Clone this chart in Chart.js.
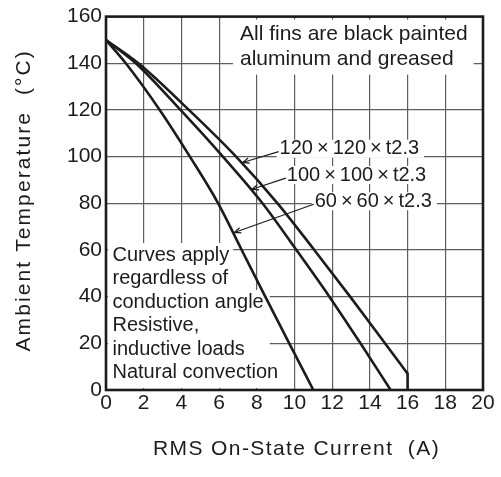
<!DOCTYPE html>
<html>
<head>
<meta charset="utf-8">
<script src="https://cdn.jsdelivr.net/npm/chart.js@4/dist/chart.umd.min.js"></script>
<style>
  html, body { margin: 0; padding: 0; background: #fff; }
  #wrap { width: 501px; height: 477px; }
</style>
</head>
<body>
<div id="wrap"><canvas id="chart" width="501" height="477"></canvas></div>
<script>
// Derating curves: ambient temperature limit vs RMS on-state current, per heat-sink fin size
const FIN_LABELS = ['120\u2009×\u2009120\u2009×\u2009t2.3', '100\u2009×\u2009100\u2009×\u2009t2.3', '60\u2009×\u200960\u2009×\u2009t2.3'];

const CURRENT_120 = [0, 1.72, 4.4, 6.9, 9.1, 11.05, 12.95, 14.8, 16.0, 16.0];
const TEMP_120    = [150, 140, 120, 100, 80, 60, 40, 20, 7, 0];

const CURRENT_100 = [0, 1.58, 3.95, 6.2, 8.3, 10.1, 11.85, 13.5, 15.1];
const TEMP_100    = [150, 140, 120, 100, 80, 60, 40, 20, 0];

const CURRENT_60  = [0, 1.05, 2.85, 4.45, 5.95, 7.2, 8.45, 9.72, 11.0];
const TEMP_60     = [150, 140, 120, 100, 80, 60, 40, 20, 0];

const X_TICKS = [0, 2, 4, 6, 8, 10, 12, 14, 16, 18, 20];
const Y_TICKS = [0, 20, 40, 60, 80, 100, 120, 140, 160];

const NOTE_TOP  = ['All fins are black painted', 'aluminum and greased'];
const NOTE_LEFT = ['Curves apply', 'regardless of', 'conduction angle', 'Resistive,', 'inductive loads', 'Natural convection'];

const X_TITLE = 'RMS On-State Current  (A)';
const Y_TITLE = 'Ambient Temperature  (°C)';

const INK = '#1c1c1c';
const GRID = '#5e5e5e';
const FAMILY = "'Liberation Sans', Arial, Helvetica, sans-serif";

const toPoints = (xs, ys) => xs.map((x, i) => ({ x, y: ys[i] }));

// the 120 curve ends in a vertical cut-off at its maximum current
const POINTS_120 = toPoints(CURRENT_120, TEMP_120);
const CURVE_120 = POINTS_120.slice(0, -1);
const CUTOFF_120 = POINTS_120.slice(-2);

// current on a curve where it crosses a given temperature
function currentAt(points, t) {
  for (let i = 0; i < points.length - 1; i++) {
    const a = points[i], b = points[i + 1];
    if (t <= a.y && t >= b.y && a.y !== b.y) {
      return a.x + (a.y - t) / (a.y - b.y) * (b.x - a.x);
    }
  }
  return points[points.length - 1].x;
}

function drawArrow(ctx, x0, y0, x1, y1) {
  ctx.beginPath();
  ctx.moveTo(x0, y0);
  ctx.lineTo(x1, y1);
  ctx.stroke();
  const ang = Math.atan2(y1 - y0, x1 - x0), len = 7, spread = 0.4;
  ctx.beginPath();
  ctx.moveTo(x1 - len * Math.cos(ang - spread), y1 - len * Math.sin(ang - spread));
  ctx.lineTo(x1, y1);
  ctx.lineTo(x1 - len * Math.cos(ang + spread), y1 - len * Math.sin(ang + spread));
  ctx.stroke();
}

// fin-size callouts: text anchor (current, temperature) and the temperature where the arrow meets its curve
const CALLOUTS = [
  { dataset: 0, at: { x: 9.21, y: 103.4 }, tipTemp: 97.5 },
  { dataset: 1, at: { x: 9.59, y: 92.1 },  tipTemp: 86 },
  { dataset: 2, at: { x: 11.07, y: 80.9 }, tipTemp: 67.5 }
];

const notesPlugin = {
  id: 'notes',
  beforeDatasetsDraw(chart) {
    const { ctx, chartArea: a, scales: { x, y } } = chart;
    ctx.save();
    ctx.fillStyle = '#fff';

    // panel behind the top-right note
    ctx.font = '21px ' + FAMILY;
    const topW = Math.max(...NOTE_TOP.map(s => ctx.measureText(s).width));
    const topX = a.right - 243;
    ctx.fillRect(topX - 7, a.top + 3, topW + 13, 55);

    // panels behind the lower-left note
    ctx.font = '20px ' + FAMILY;
    const lx = a.left + 6.5;
    const c0 = a.bottom - 135;
    const wA = Math.max(ctx.measureText(NOTE_LEFT[0]).width, ctx.measureText(NOTE_LEFT[1]).width);
    const wB = ctx.measureText(NOTE_LEFT[2]).width;
    ctx.fillRect(a.left + 2, c0 - 12, lx - a.left - 2 + wA + 4, 47);
    ctx.fillRect(a.left + 2, c0 + 35, lx - a.left - 2 + wB + 6, a.bottom - c0 - 37);

    // panels behind the fin-size callouts
    CALLOUTS.forEach(c => {
      const w = ctx.measureText(FIN_LABELS[c.dataset]).width;
      const px = x.getPixelForValue(c.at.x), py = y.getPixelForValue(c.at.y);
      ctx.fillRect(px - 3, py - 9, w + 8, 18);
    });
    ctx.restore();
  },
  afterDatasetsDraw(chart) {
    const { ctx, chartArea: a, scales: { x, y } } = chart;
    ctx.save();
    ctx.fillStyle = INK;
    ctx.strokeStyle = INK;
    ctx.textBaseline = 'middle';
    ctx.textAlign = 'left';

    // plot frame
    ctx.lineWidth = 2.6;
    ctx.strokeRect(a.left, a.top, a.right - a.left, a.bottom - a.top);

    // top-right note
    ctx.font = '21px ' + FAMILY;
    const topX = a.right - 243;
    NOTE_TOP.forEach((s, i) => ctx.fillText(s, topX, a.top + 18 + i * 25));

    // lower-left note
    ctx.font = '20px ' + FAMILY;
    const lx = a.left + 6.5;
    const c0 = a.bottom - 135;
    NOTE_LEFT.forEach((s, i) => ctx.fillText(s, lx, c0 + i * 23.5));

    // fin-size callouts with arrows onto their curves
    ctx.lineWidth = 1.2;
    CALLOUTS.forEach(c => {
      const pts = chart.data.datasets[c.dataset].data;
      const px = x.getPixelForValue(c.at.x), py = y.getPixelForValue(c.at.y);
      ctx.fillText(FIN_LABELS[c.dataset], px, py);
      const tx = x.getPixelForValue(currentAt(pts, c.tipTemp));
      const ty = y.getPixelForValue(c.tipTemp);
      drawArrow(ctx, px - 1, py + 3, tx + 1.5, ty);
    });
    ctx.restore();
  },
  afterDraw(chart) {
    const { ctx, chartArea: a } = chart;
    ctx.save();
    ctx.fillStyle = INK;
    ctx.font = '21px ' + FAMILY;
    ctx.textAlign = 'center';
    ctx.textBaseline = 'alphabetic';
    if ('letterSpacing' in ctx) ctx.letterSpacing = '1.4px';
    ctx.fillText(X_TITLE, (a.left + a.right) / 2 + 2, 455);
    if ('letterSpacing' in ctx) ctx.letterSpacing = '2.1px';
    ctx.translate(30, (a.top + a.bottom) / 2 - 3);
    ctx.rotate(-Math.PI / 2);
    ctx.fillText(Y_TITLE, 0, 0);
    ctx.restore();
  }
};

const curveStyle = {
  showLine: true,
  borderColor: INK,
  backgroundColor: INK,
  borderWidth: 2.6,
  pointRadius: 0,
  pointHoverRadius: 0,
  cubicInterpolationMode: 'monotone',
  fill: false,
  borderJoinStyle: 'round',
  borderCapStyle: 'butt'
};

new Chart(document.getElementById('chart'), {
  type: 'scatter',
  data: {
    datasets: [
      { label: FIN_LABELS[0], data: CURVE_120, ...curveStyle },
      { label: FIN_LABELS[1], data: toPoints(CURRENT_100, TEMP_100), ...curveStyle },
      { label: FIN_LABELS[2], data: toPoints(CURRENT_60, TEMP_60), ...curveStyle },
      { label: FIN_LABELS[0] + ' cut-off', data: CUTOFF_120, ...curveStyle, cubicInterpolationMode: 'default', tension: 0 }
    ]
  },
  options: {
    responsive: false,
    animation: false,
    devicePixelRatio: 1,
    layout: { padding: { top: 14, right: 18, left: 0, bottom: 0 } },
    plugins: { legend: { display: false }, tooltip: { enabled: false } },
    scales: {
      x: {
        type: 'linear',
        min: 0, max: 20,
        afterBuildTicks: s => { s.ticks = X_TICKS.map(v => ({ value: v })); },
        afterFit: s => { s.height = 87; },
        ticks: { font: { family: FAMILY, size: 21 }, color: INK, padding: 1, maxRotation: 0, autoSkip: false },
        grid: { color: GRID, lineWidth: 1.2, drawTicks: false },
        border: { display: false },
        title: { display: false }
      },
      y: {
        type: 'linear',
        min: 0, max: 160,
        afterBuildTicks: s => { s.ticks = Y_TICKS.map(v => ({ value: v })); },
        afterFit: s => { s.width = 106; },
        ticks: { font: { family: FAMILY, size: 21 }, color: INK, padding: 4, autoSkip: false },
        grid: { color: GRID, lineWidth: 1.2, drawTicks: false },
        border: { display: false },
        title: { display: false }
      }
    }
  },
  plugins: [notesPlugin]
});
</script>
</body>
</html>
